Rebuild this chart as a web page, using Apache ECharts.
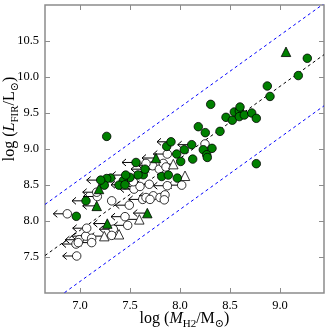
<!DOCTYPE html>
<html>
<head>
<meta charset="utf-8">
<title>LFIR vs MH2</title>
<script src="https://cdn.jsdelivr.net/npm/echarts@6/dist/echarts.min.js"></script>
<style>
  html, body { margin: 0; padding: 0; background: #fff; }
  #chart { width: 329px; height: 329px; }
</style>
</head>
<body>
<div id="chart"></div>
<script>
// detections, green filled circles  [log MH2, log LFIR]
const greenCircles = [
  [9.273, 10.26], [9.183, 10.02], [8.873, 9.875], [8.90, 9.73], [8.307, 9.62],
  [8.46, 9.44], [8.523, 9.40], [8.543, 9.514], [8.593, 9.528], [8.60, 9.583],
  [8.593, 9.45], [8.643, 9.472], [8.717, 9.50], [8.763, 9.426],
  [8.183, 9.31], [8.253, 9.227], [8.40, 9.245], [8.763, 8.796],
  [8.32, 9.009], [8.233, 8.99], [8.267, 8.92], [8.273, 8.883], [8.127, 8.86],
  [8.043, 8.99], [7.967, 8.93], [8.007, 8.827], [7.867, 9.036],
  [7.267, 9.175],
  [7.817, 8.618], [7.883, 8.638], [7.973, 8.596],
  [7.633, 8.642], [7.58, 8.64], [7.5, 8.605], [7.433, 8.56],
  [7.307, 8.596], [7.267, 8.59], [7.243, 8.498], [7.39, 8.498],
  [6.963, 8.065]
];
// green circles that carry a left arrow
const greenCirclesLim = [
  [7.91, 9.10], [8.117, 9.06], [7.56, 8.813], [7.06, 8.28],
  [7.457, 8.638], [7.45, 8.503], [7.65, 8.72], [7.207, 8.568]
];
const greenTriangles = [[9.06, 10.35], [7.19, 8.445]];
const greenTrianglesLim = [[7.76, 8.875], [7.673, 8.11], [7.273, 7.964], [7.167, 8.21]];

// upper limits in MH2, open symbols
const openCirclesLim = [
  [6.873, 8.10], [6.967, 7.514], [6.96, 7.68], [6.993, 7.74], [7.057, 7.79],
  [7.067, 7.90], [7.117, 7.76], [7.117, 7.70], [7.333, 7.886], [7.45, 8.06],
  [7.477, 7.94], [7.493, 8.22], [7.173, 8.34], [7.167, 8.40], [7.54, 8.443],
  [7.60, 8.48], [7.693, 8.51], [7.733, 8.35], [7.80, 8.326], [7.727, 8.767],
  [7.793, 8.72], [7.873, 8.93], [8.017, 8.498], [7.873, 8.49], [7.627, 8.30]
];
const openCircles = [
  [8.25, 9.07], [7.833, 8.80], [7.66, 8.80], [7.86, 8.75], [7.533, 8.545],
  [7.317, 8.28], [7.66, 8.326], [7.85, 8.363], [7.843, 8.294], [7.70, 8.30],
  [6.983, 7.70], [7.317, 7.80]
];
const openTrianglesLim = [[7.933, 8.79], [7.593, 8.023], [7.243, 7.79]];
const openTriangles = [[8.05, 8.628], [7.39, 7.816]];

const xTicks = [7.0, 7.5, 8.0, 8.5, 9.0];
const yTicks = [7.5, 8.0, 8.5, 9.0, 9.5, 10.0, 10.5];
const xRange = [6.65, 9.44];
const yRange = [7.0, 11.0];

// fit: log LFIR = slope * log MH2 + offset, with +-spread band
const fitSlope = 1.0;
const fitOffset = 0.87;
const fitSpread = 0.71;
const arrowLen = 0.14;

function fitLine(off) {
  return xRange.map(x => [x, fitSlope * x + off]);
}

const chart = echarts.init(document.getElementById('chart'));
const serif = "'Liberation Serif', 'DejaVu Serif', serif";
const frame = '#8c8c8c';

function scatter(data, symbol, color, size, z) {
  return {
    type: 'scatter', data: data, symbol: symbol, symbolSize: size, z: z,
    itemStyle: { color: color, borderColor: '#000', borderWidth: 0.8, opacity: 1 }
  };
}

function arrows(data) {
  return {
    type: 'custom', data: data, z: 1,
    renderItem: function (params, api) {
      const p = api.coord([api.value(0), api.value(1)]);
      const t = api.coord([api.value(0) - arrowLen, api.value(1)]);
      return {
        type: 'group',
        children: [
          { type: 'line', shape: { x1: p[0], y1: p[1], x2: t[0], y2: t[1] },
            style: { stroke: '#000', lineWidth: 1 } },
          { type: 'polyline', shape: { points: [[t[0] + 4, t[1] - 3.5], [t[0], t[1]], [t[0] + 4, t[1] + 3.5]] },
            style: { stroke: '#000', lineWidth: 1, fill: null } }
        ]
      };
    }
  };
}

function dashed(data, color) {
  return {
    type: 'line', data: data, symbol: 'none', z: 0, clip: true,
    lineStyle: { color: color, width: 1, type: [3, 3] }
  };
}

const tickStyle = { inside: true, length: 5, lineStyle: { color: frame, width: 1 } };
const nameRich = {
  n: { fontFamily: serif, fontSize: 16, color: '#000', lineHeight: 22, verticalAlign: 'middle' },
  i: { fontFamily: serif, fontSize: 16, fontStyle: 'italic', color: '#000', lineHeight: 22, verticalAlign: 'middle' },
  s: { fontFamily: serif, fontSize: 11, color: '#000', lineHeight: 11, verticalAlign: 'bottom' }
};

const option = {
  animation: false,
  grid: {
    left: 45, top: 5, width: 279, height: 288, show: true,
    borderColor: frame, borderWidth: 1.5, outerBoundsMode: 'none', containLabel: false
  },
  xAxis: [{
    type: 'value', min: xRange[0], max: xRange[1],
    axisLine: { show: false }, splitLine: { show: false },
    axisTick: Object.assign({ customValues: xTicks }, tickStyle),
    axisLabel: { customValues: xTicks, formatter: v => v.toFixed(1), fontFamily: serif, fontSize: 12.5, color: '#000', margin: 6 },
    name: '{n|log (}{i|M}{s|H2}{n|/M}{s|\u2299}{n|)}',
    nameLocation: 'middle', nameGap: 15, nameMoveOverlap: false,
    nameTextStyle: { rich: nameRich }
  }, {
    type: 'value', position: 'top', min: xRange[0], max: xRange[1],
    axisLine: { show: false }, splitLine: { show: false }, axisLabel: { show: false },
    axisTick: Object.assign({ customValues: xTicks }, tickStyle)
  }],
  yAxis: [{
    type: 'value', min: yRange[0], max: yRange[1],
    axisLine: { show: false }, splitLine: { show: false },
    axisTick: Object.assign({ customValues: yTicks }, tickStyle),
    axisLabel: { customValues: yTicks, formatter: v => v.toFixed(1), fontFamily: serif, fontSize: 12.5, color: '#000', margin: 6 },
    name: '{n|log (}{i|L}{s|FIR}{n|/L}{s|\u2299}{n|)}',
    nameLocation: 'middle', nameGap: 24, nameMoveOverlap: false,
    nameTextStyle: { padding: [0, 0, 0, 60], rich: nameRich }
  }, {
    type: 'value', position: 'right', min: yRange[0], max: yRange[1],
    axisLine: { show: false }, splitLine: { show: false }, axisLabel: { show: false },
    axisTick: Object.assign({ customValues: yTicks }, tickStyle)
  }],
  series: [
    dashed(fitLine(fitOffset), '#000'),
    dashed(fitLine(fitOffset + fitSpread), '#0000ff'),
    dashed(fitLine(fitOffset - fitSpread), '#0000ff'),
    arrows(openCirclesLim.concat(openTrianglesLim, greenCirclesLim, greenTrianglesLim)),
    scatter(openCirclesLim.concat(openCircles), 'circle', '#fff', 8.5, 2),
    scatter(openTrianglesLim.concat(openTriangles), 'triangle', '#fff', 9.5, 2),
    scatter(greenCircles.concat(greenCirclesLim), 'circle', '#008000', 8.5, 3),
    scatter(greenTriangles.concat(greenTrianglesLim), 'triangle', '#008000', 9.5, 3)
  ]
};
chart.setOption(option);
</script>
</body>
</html>
